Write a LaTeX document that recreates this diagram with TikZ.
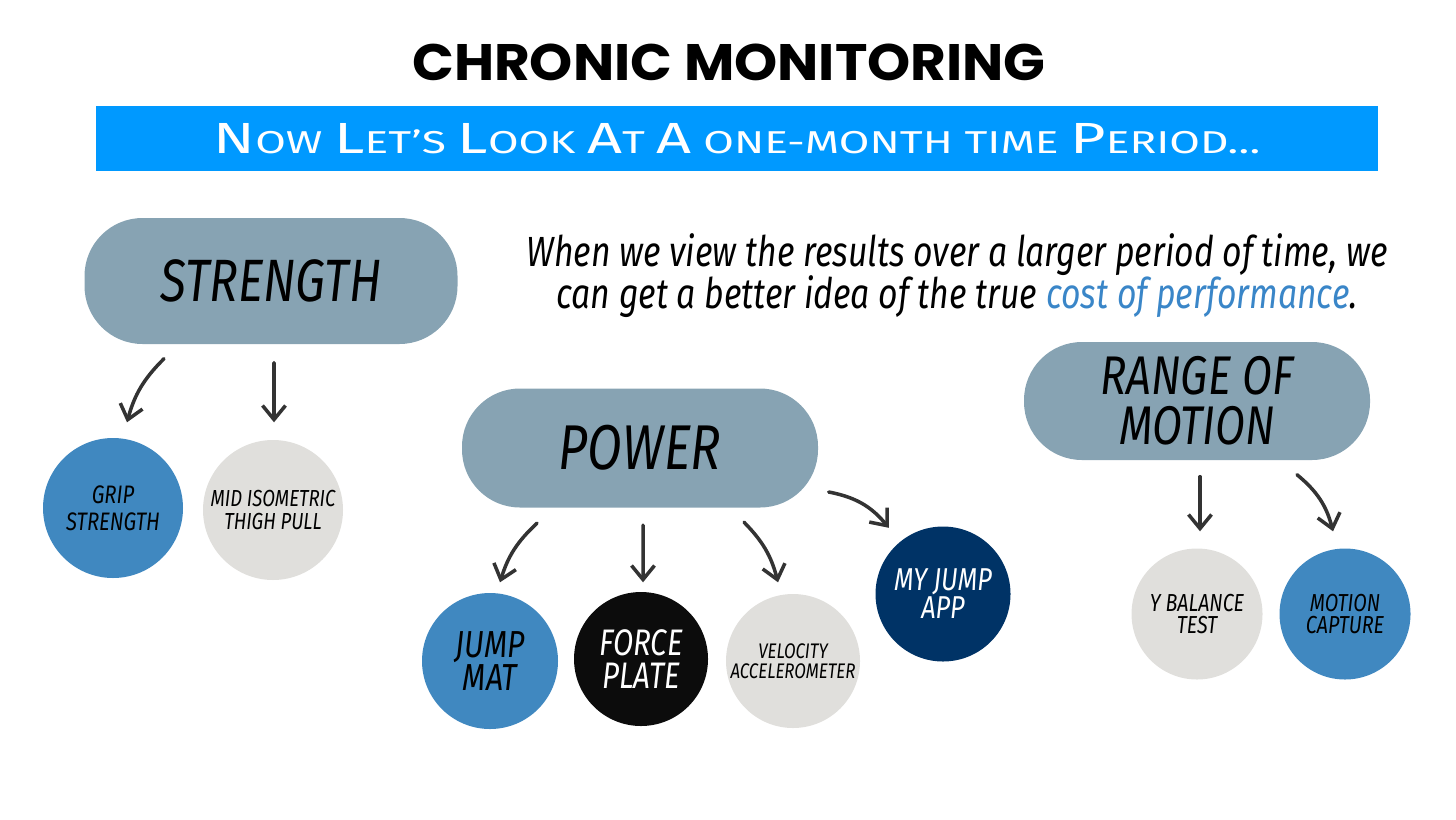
\documentclass[tikz,border=0pt]{standalone}
\usepackage{fontspec}
\usepackage{xcolor}
\usetikzlibrary{arrows.meta}
\setmainfont{Fira Sans}
\newfontfamily\titlefont{Poppins}[FakeStretch=1.07]
\newfontfamily\handfont{Fira Sans}[FakeStretch=0.8]
\newfontfamily\widefont{Fira Sans}[FakeStretch=1.4]
\definecolor{barblue}{RGB}{0,153,255}
\definecolor{blobgray}{RGB}{135,163,179}
\definecolor{midblue}{RGB}{64,136,192}
\definecolor{lightgray}{RGB}{224,223,220}
\definecolor{nearblack}{RGB}{12,12,12}
\definecolor{navy}{RGB}{0,51,102}
\definecolor{linkblue}{RGB}{58,134,200}
\definecolor{arrgray}{RGB}{51,51,51}
\newcommand{\tightlines}{\lineskiplimit-20pt\relax}
\newcommand{\cf}[2]{\fontsize{#1}{#2}\selectfont\tightlines}
\newcommand{\bigc}[1]{{\fontsize{12.4}{12}\selectfont #1}}
\tikzset{
  blob/.style 2 args={fill=blobgray,rounded corners=0.58cm,inner sep=0pt,align=center,font=\handfont\itshape\cf{#1}{#2}},
  dot/.style 2 args={circle,inner sep=0pt,align=center,font=\handfont\itshape\cf{#1}{#2}},
  arr/.style={line width=1pt,line cap=round,draw=arrgray,-{Straight Barb[length=1.4mm,width=2.3mm]}}
}

\begin{document}
\begin{tikzpicture}
\useasboundingbox (0,0) rectangle (14.56,8.19);
% heading and banner
\node[font=\titlefont\bfseries\cf{14.6}{14}] (title) at (7.29,7.57) {CHRONIC MONITORING};
\node[fill=barblue,minimum width=12.82cm,minimum height=0.65cm,inner sep=0pt,text=white,font=\widefont\cf{9}{9}] (bar) at (7.37,6.805)
  {\bigc{N}OW \bigc{L}ET’S \bigc{L}OOK \bigc{A}T \bigc{A} ONE-MONTH TIME \bigc{P}ERIOD\ldots};
\node[align=center,font=\handfont\itshape\cf{12}{12}] (note) at (9.57,5.43)
  {When we view the results over a larger period of time, we\\can get a better idea of the true \textcolor{linkblue}{cost of performance}.};
% categories
\node[blob={17}{15},minimum width=3.73cm,minimum height=1.26cm] (strength) at (2.71,5.38) {STRENGTH};
\node[blob={18}{16},minimum width=3.56cm,minimum height=1.19cm] (power) at (6.40,3.71) {POWER};
\node[blob={15.5}{14.2},minimum width=3.46cm,minimum height=1.18cm] (rom) at (11.97,4.18) {RANGE OF\\MOTION};
% tests
\node[dot={7.2}{7.7},fill=midblue,minimum size=1.40cm] (grip) at (1.13,3.11) {GRIP\\STRENGTH};
\node[dot={6.6}{6.3},fill=lightgray,minimum size=1.40cm] (mitp) at (2.73,3.09) {MID ISOMETRIC\\THIGH PULL};
\node[dot={10.7}{9.4},fill=midblue,minimum size=1.36cm] (jmat) at (4.90,1.58) {JUMP\\MAT};
\node[dot={10.5}{9.4},fill=nearblack,text=white,minimum size=1.34cm] (fplate) at (6.41,1.60) {FORCE\\PLATE};
\node[dot={6}{5.8},fill=lightgray,minimum size=1.34cm] (vel) at (7.93,1.58) {VELOCITY\\ACCELEROMETER};
\node[dot={9}{8},fill=navy,text=white,minimum size=1.35cm] (myjump) at (9.43,2.25) {MY JUMP\\APP};
\node[dot={7}{6.3},fill=lightgray,minimum size=1.31cm] (ybal) at (11.97,2.05) {Y BALANCE\\TEST};
\node[dot={7}{6.3},fill=midblue,minimum size=1.31cm] (mocap) at (13.45,2.05) {MOTION\\CAPTURE};
% arrows
\draw[arr] ([shift={(-1.07,-0.14)}]strength.south) to[bend right=15] ([shift={(0.14,0.15)}]grip.north);
\draw[arr] ([shift={(0.03,-0.18)}]strength.south) -- ([shift={(0.01,0.17)}]mitp.north);
\draw[arr] ([shift={(-1.03,-0.15)}]power.south) to[bend right=15] ([shift={(0.10,0.10)}]jmat.north);
\draw[arr] ([shift={(0.03,-0.17)}]power.south) -- ([shift={(0.02,0.09)}]fplate.north);
\draw[arr] ([shift={(1.04,-0.14)}]power.south) to[bend left=15] ([shift={(-0.15,0.11)}]vel.north);
\draw[arr] ([shift={(0.10,-0.44)}]power.east) to[bend left=20] ([shift={(-0.06,0.18)}]myjump.135);
\draw[arr] ([shift={(0.03,-0.16)}]rom.south) -- ([shift={(0.03,0.165)}]ybal.north);
\draw[arr] ([shift={(1.00,-0.14)}]rom.south) to[bend left=18] ([shift={(-0.12,0.165)}]mocap.north);
\end{tikzpicture}
\end{document}
